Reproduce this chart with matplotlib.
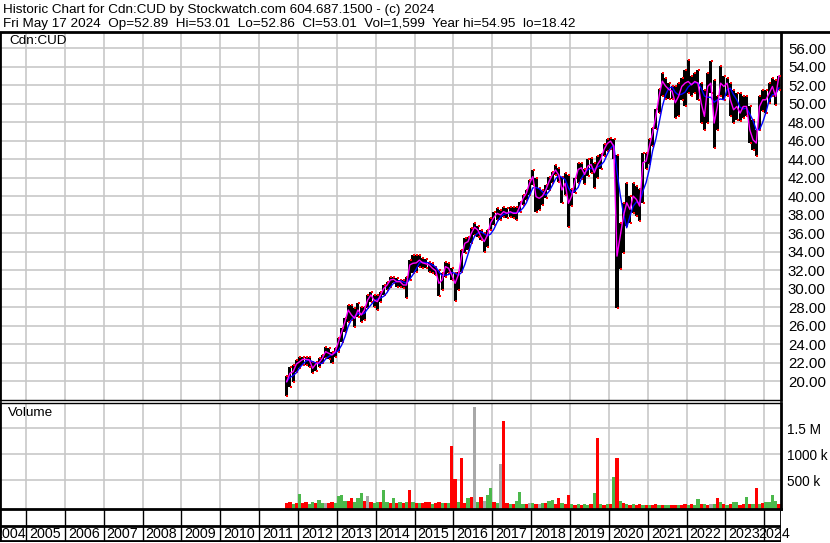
import pandas as pd
import matplotlib
matplotlib.use('Agg')
import matplotlib.pyplot as plt
from matplotlib.lines import Line2D

plt.rcParams['font.family'] = ['Liberation Sans', 'DejaVu Sans']

W, H = 830, 543

# monthly values, Sep 2011 .. May 2024
highs = [20.58, 21.59, 21.77, 22.31,
         22.59, 22.67, 22.67, 22.67, 22.13, 22.13, 22.49, 22.85, 23.68, 23.57, 23.21, 23.57,
         24.65, 25.73, 26.81, 28.25, 28.25, 27.89, 28.43, 28.07, 28.07, 29.33, 29.69, 29.33,
         29.33, 29.69, 30.41, 30.77, 31.32, 31.32, 31.14, 30.95, 30.95, 31.32, 33.12, 33.66,
         33.60, 33.60, 33.30, 33.20, 32.94, 32.76, 32.40, 32.04, 31.68, 32.94, 32.76, 32.22,
         31.68, 31.86, 34.20, 35.46, 35.64, 36.54, 37.08, 36.79, 36.36, 36.00, 36.36, 37.62,
         38.34, 38.70, 38.52, 38.88, 38.70, 38.88, 38.88, 38.88, 39.42, 40.14, 40.68, 41.77,
         42.85, 41.95, 40.86, 40.68, 41.23, 42.13, 42.67, 43.39, 43.03, 42.13, 42.49, 42.31,
         40.74, 42.00, 43.62, 43.62, 42.90, 43.98, 44.16, 43.62, 44.34, 44.52, 45.60, 46.14,
         46.32, 46.14, 44.50, 37.14, 39.30, 41.46, 40.02, 41.46, 41.10, 40.74, 44.70, 44.70,
         46.14, 47.41, 49.39, 51.55, 53.35, 52.81, 52.27, 51.91, 51.91, 52.23, 52.77, 53.68,
         54.76, 52.95, 53.32, 53.68, 52.23, 51.51, 53.32, 54.58, 52.59, 50.79, 54.04, 52.95,
         52.77, 52.23, 51.51, 51.15, 51.15, 50.79, 50.79, 49.71, 48.27, 47.19, 50.79, 51.51,
         51.51, 52.23, 52.77, 52.59, 53.01]
lows = [18.41, 19.42, 19.96, 21.05,
        21.41, 21.77, 21.77, 21.59, 20.94, 21.15, 21.59, 21.95, 22.49, 22.38, 22.02, 22.67,
        23.21, 24.29, 25.37, 26.45, 26.63, 25.91, 26.99, 26.45, 26.63, 27.89, 28.61, 28.07,
        27.71, 28.61, 29.33, 29.87, 30.23, 30.59, 30.23, 30.23, 30.05, 28.97, 30.95, 31.68,
        31.80, 32.40, 32.20, 32.30, 31.86, 31.68, 31.50, 29.23, 29.87, 31.32, 31.68, 30.95,
        28.72, 29.87, 31.86, 33.84, 34.20, 34.92, 35.82, 35.64, 35.28, 34.02, 34.56, 36.36,
        36.90, 37.44, 37.44, 37.73, 37.62, 37.73, 37.62, 37.44, 38.34, 39.06, 39.60, 40.14,
        41.23, 38.34, 38.52, 39.06, 39.78, 40.68, 41.41, 42.31, 41.59, 39.24, 40.14, 36.65,
        38.94, 40.38, 41.46, 41.82, 41.28, 42.18, 42.54, 40.92, 42.00, 42.90, 44.34, 44.88,
        45.06, 43.98, 27.95, 32.09, 33.89, 36.78, 37.14, 38.22, 37.86, 37.32, 39.30, 42.90,
        43.44, 45.42, 47.23, 49.03, 50.83, 50.47, 50.47, 50.47, 48.49, 48.63, 50.43, 49.71,
        51.15, 50.79, 51.15, 50.43, 47.91, 47.19, 47.91, 51.15, 45.21, 47.19, 50.79, 50.43,
        50.79, 48.63, 47.91, 48.27, 48.09, 48.45, 48.63, 45.75, 45.03, 44.31, 47.19, 49.17,
        48.99, 50.07, 50.79, 49.89, 51.51]
closes = [19.96, 20.86, 21.05, 21.87,
          22.13, 22.38, 22.38, 22.31, 21.41, 21.87, 22.02, 22.49, 23.21, 23.03, 22.85, 23.21,
          24.29, 25.37, 26.45, 27.71, 27.17, 26.81, 27.71, 27.17, 27.71, 28.79, 29.33, 28.79,
          28.61, 29.33, 30.05, 30.41, 30.95, 31.03, 30.77, 30.77, 30.41, 30.41, 32.58, 32.76,
          32.80, 33.10, 32.80, 32.70, 32.58, 32.22, 31.96, 30.59, 30.95, 32.40, 32.22, 31.50,
          30.59, 31.50, 33.48, 34.92, 35.10, 36.00, 36.65, 36.36, 35.64, 35.10, 35.82, 37.15,
          37.73, 38.16, 37.98, 38.34, 38.16, 38.34, 38.16, 38.16, 38.88, 39.78, 40.32, 41.41,
          42.13, 39.96, 39.78, 40.04, 40.68, 41.59, 42.31, 42.85, 42.31, 40.68, 41.41, 39.24,
          40.02, 41.64, 42.90, 43.08, 42.36, 43.26, 43.44, 42.54, 43.44, 43.98, 45.06, 45.71,
          45.96, 45.42, 33.53, 35.69, 37.86, 39.30, 38.58, 40.02, 39.66, 38.94, 43.62, 43.80,
          45.42, 46.86, 48.67, 50.83, 52.45, 51.91, 51.55, 51.37, 50.11, 50.79, 51.87, 52.23,
          52.41, 52.05, 52.41, 52.23, 50.07, 48.63, 51.87, 52.23, 47.91, 49.71, 52.23, 51.87,
          52.23, 50.43, 49.35, 49.71, 48.99, 49.71, 49.71, 47.19, 46.11, 45.75, 49.71, 50.43,
          50.43, 51.15, 51.87, 50.79, 53.01]
# volume in thousands
volumes = [60, 80, 50, 70,
           237, 70, 90, 50, 80, 60, 122, 70, 58, 60, 90, 70,
           199, 218, 100, 110, 154, 90, 154, 250, 100, 199, 80, 70,
           90, 80, 314, 90, 70, 160, 60, 80, 60, 77, 314, 80,
           60, 70, 60, 90, 90, 50, 70, 90, 60, 60, 70, 1160,
           526, 80, 930, 60, 167, 180, 1910, 80, 180, 100, 224, 352,
           80, 60, 814, 1641, 70, 50, 40, 100, 276, 50, 40, 60,
           60, 50, 40, 60, 70, 109, 122, 50, 160, 60, 50, 218,
           40, 30, 40, 30, 40, 30, 40, 250, 1314, 40, 30, 40,
           50, 564, 930, 100, 60, 40, 30, 50, 30, 40, 30, 30,
           30, 20, 40, 20, 30, 20, 30, 20, 30, 20, 30, 40,
           30, 50, 30, 141, 50, 40, 30, 50, 50, 154, 80, 40,
           30, 40, 80, 90, 30, 40, 180, 40, 50, 352, 50, 60,
           80, 90, 218, 100, 40]
# bar colour code per month: g=up, r=down, x=unchanged
vol_dir = ''.join([
    'rrgr',
    'grrggrggxrrg',
    'gggrrgggrxrg',
    'grggrgrgrgrg',
    'rgrrrgrrgrgr',
    'rgrrgrxgrxgg',
    'rgxrrgrgggrx',
    'grxgrggrrgrr',
    'grgrggrgrgrg',
    'rgrgrgrgrrgr',
    'grrgrggrrgrr',
    'grggrgrxgrgr',
    'grggrrgrgrgr',
    'ggggr',
])
years = list(range(2004, 2025))

months = pd.period_range('2011-09', periods=len(closes), freq='M')
t = months.year + (months.month - 0.5) / 12
ma_long = pd.Series(closes).rolling(4, min_periods=1).mean()


def xyear(px):
    return 2005 + (px - 26) / 38.86


def px_axes(x0, y0, x1, y1):
    return fig.add_axes([x0 / W, 1 - y1 / H, (x1 - x0) / W, (y1 - y0) / H])


fig = plt.figure(figsize=(W / 100, H / 100), dpi=100)
fig.patch.set_facecolor('white')
grid_c = '#c8c8c8'
xl = (xyear(0), xyear(781))

# price panel
ax = px_axes(0, 33, 781, 400)
ax.set_xlim(xl)
ax.set_ylim(17.98, 57.65)
for y in years[1:]:
    ax.axvline(y, color=grid_c, lw=1.2, zorder=0)
for p in range(20, 58, 2):
    ax.axhline(p, color=grid_c, lw=1.2, zorder=0)
ax.bar(t, [h - l for h, l in zip(highs, lows)], bottom=lows, width=1 / 12 * 0.95,
       color='black', zorder=2)
ax.plot(t + 0.02, highs, 's', color='red', ms=1.6, mew=0, zorder=3)
ax.plot(t + 0.02, lows, 's', color='red', ms=1.6, mew=0, zorder=3)
ax.plot(t, ma_long, color='#0000ff', lw=1.0, zorder=4)
ax.plot(t, closes, color='#ff00ff', lw=1.0, zorder=5)
ax.set_yticks(range(20, 58, 2))
ax.set_yticklabels(['%.2f' % p for p in range(20, 58, 2)])
ax.yaxis.tick_right()
ax.tick_params(axis='y', length=0, pad=5, labelsize=10.8)
ax.set_xticks([])
for s in ['left', 'right']:
    ax.spines[s].set_linewidth(2)
ax.spines['top'].set_visible(False)
ax.spines['bottom'].set_linewidth(1)
ax.text(9 / 781, 1 - 8 / 367, 'Cdn:CUD', transform=ax.transAxes, fontsize=9.7,
        va='center', ha='left')

# volume panel
cmap = {'g': '#4cb84c', 'r': '#ff0000', 'x': '#a8a8a8'}
av = px_axes(0, 403, 781, 509)
av.set_xlim(xl)
av.set_ylim(-52, 1986)
for y in years[1:]:
    av.axvline(y, color=grid_c, lw=1.2, zorder=0)
for v in [500, 1000, 1500]:
    av.axhline(v, color=grid_c, lw=1.2, zorder=0)
av.bar(t, [v + 52 for v in volumes], bottom=-52, width=1 / 12,
       color=[cmap[c] for c in vol_dir], zorder=2)
av.set_yticks([500, 1000, 1500])
av.set_yticklabels(['500 k', '1000 k', '1.5 M'])
av.yaxis.tick_right()
av.tick_params(axis='y', length=0, pad=4, labelsize=9.8)
av.set_xticks([])
for s in ['left', 'right']:
    av.spines[s].set_linewidth(2)
av.spines['top'].set_linewidth(1)
av.spines['bottom'].set_linewidth(2)
av.text(8 / 781, 1 - 10 / 106, 'Volume', transform=av.transAxes, fontsize=9.7,
        va='center', ha='left')

# year boxes under the chart
ab = px_axes(0, 509, 781, 542)
ab.set_xlim(xl)
ab.set_ylim(0, 1)
ab.axis('off')
for y in years[1:]:
    ab.axvline(y, color='black', lw=1)
mid = (542 - 526) / 33
ab.axhline(mid, color='black', lw=2)
ab.axhline(0.02, color='black', lw=2)
ab.axvline(xl[0], color='black', lw=2)
ab.axvline(xl[1], color='black', lw=2)
for y in years:
    if y == 2004:
        ab.text(xyear(25.5), mid / 2, str(y), ha='right', va='center', fontsize=10.3)
    elif y == 2024:
        ab.text(xyear(758), mid / 2, str(y), ha='left', va='center', fontsize=10.3)
    else:
        ab.text(y + 3 / 38.86, mid / 2, str(y), ha='left', va='center', fontsize=10.3)

# header
fig.add_artist(Line2D([0, 1], [1 - 32 / H, 1 - 32 / H], color='black', lw=2))
fig.text(3 / W, 1 - 10 / H, 'Historic Chart for Cdn:CUD by Stockwatch.com 604.687.1500 - (c) 2024',
         fontsize=9.7, va='center')
fig.text(3 / W, 1 - 24 / H,
         'Fri May 17 2024  Op=52.89  Hi=53.01  Lo=52.86  Cl=53.01  Vol=1,599  Year hi=54.95  lo=18.42',
         fontsize=9.7, va='center')

fig.savefig('out.png', dpi=100)
